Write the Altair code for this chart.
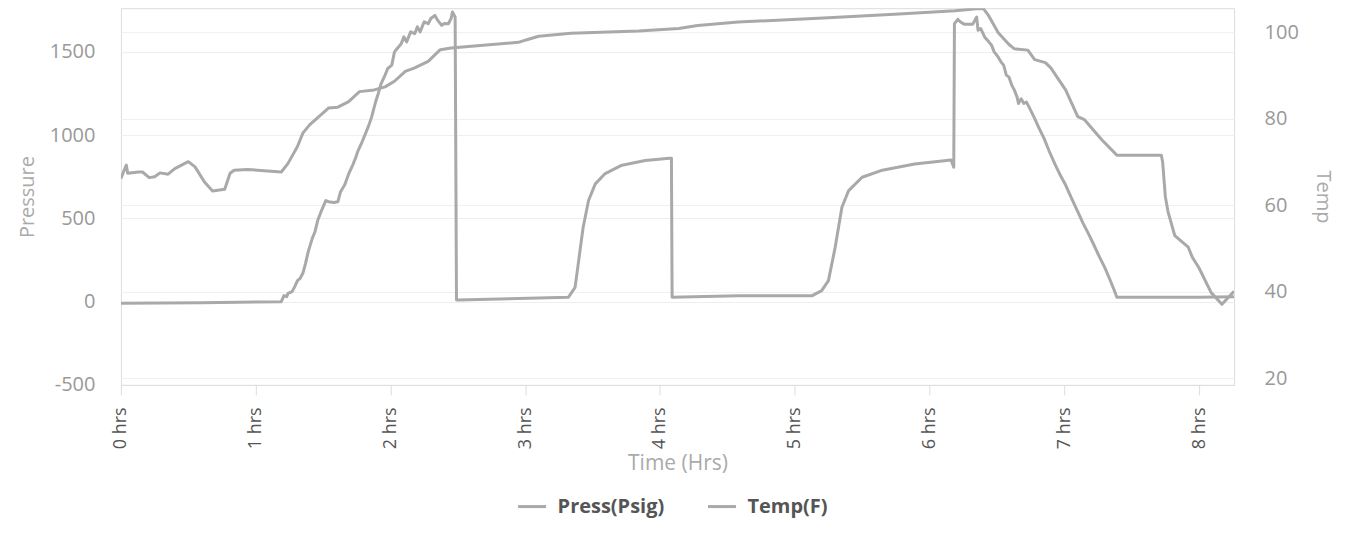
import altair as alt
import pandas as pd

series_names = ["Press(Psig)", "Temp(F)"]
hour_ticks = [0, 1, 2, 3, 4, 5, 6, 7, 8]
press_ticks = [-500, 0, 500, 1000, 1500]
temp_ticks = [20, 40, 60, 80, 100]

press_t = [0.00, 0.60, 1.19, 1.21, 1.23, 1.24, 1.27, 1.29, 1.31, 1.33, 1.35, 1.37, 1.39, 1.42, 1.44,
           1.46, 1.49, 1.52, 1.54, 1.58, 1.61, 1.63, 1.66, 1.69, 1.72, 1.74, 1.76, 1.79, 1.81, 1.84,
           1.86, 1.89, 1.91, 1.93, 1.96, 1.98, 2.01, 2.03, 2.05, 2.08, 2.10, 2.12, 2.15, 2.18, 2.20,
           2.22, 2.25, 2.28, 2.30, 2.33, 2.35, 2.38, 2.40, 2.43, 2.45, 2.46, 2.48, 2.49, 2.50, 3.32,
           3.37, 3.39, 3.43, 3.47, 3.52, 3.59, 3.71, 3.89, 4.07, 4.085, 4.09, 4.58, 5.13, 5.20, 5.25,
           5.30, 5.35, 5.40, 5.50, 5.64, 5.89, 6.16, 6.18, 6.185, 6.21, 6.23, 6.26, 6.32, 6.35, 6.36,
           6.38, 6.41, 6.44, 6.46, 6.48, 6.51, 6.53, 6.55, 6.57, 6.59, 6.61, 6.63, 6.65, 6.66, 6.68,
           6.70, 6.72, 6.75, 6.78, 6.81, 6.85, 6.89, 6.93, 6.97, 7.01, 7.05, 7.10, 7.14, 7.18, 7.22,
           7.26, 7.30, 7.34, 7.37, 7.39, 8.00, 8.26]
press_v = [-10, -6, 0, 36, 30, 50, 60, 90, 126, 140, 170, 230, 300, 380, 420,
           487, 550, 607, 600, 595, 600, 660, 700, 767, 820, 860, 907, 960, 1000, 1060,
           1108, 1200, 1250, 1308, 1360, 1400, 1420, 1500, 1520, 1549, 1590, 1560, 1620, 1609, 1650,
           1620, 1680, 1669, 1700, 1719, 1690, 1659, 1670, 1669, 1700, 1739, 1709, 10, 10, 26,
           86, 206, 447, 607, 707, 767, 817, 847, 861, 861, 26, 36, 36, 66, 126,
           326, 567, 667, 747, 787, 827, 851, 807, 1669, 1695, 1679, 1665, 1665, 1709, 1629,
           1640, 1588, 1560, 1540, 1500, 1468, 1440, 1420, 1360, 1348, 1300, 1270, 1228, 1190, 1218,
           1190, 1198, 1150, 1100, 1047, 980, 900, 827, 760, 700, 627, 540, 470, 407, 340,
           270, 206, 130, 70, 26, 26, 30]

temp_t = [0.00, 0.02, 0.04, 0.05, 0.10, 0.13, 0.16, 0.21, 0.25, 0.29, 0.35, 0.40, 0.50, 0.55, 0.62,
          0.68, 0.77, 0.81, 0.84, 0.94, 1.19, 1.24, 1.31, 1.35, 1.40, 1.54, 1.61, 1.69, 1.77, 1.88,
          1.96, 2.03, 2.11, 2.18, 2.28, 2.37, 2.45, 2.60, 2.95, 3.00, 3.10, 3.34, 3.84, 4.14, 4.28,
          4.58, 5.25, 5.74, 6.19, 6.29, 6.36, 6.40, 6.44, 6.51, 6.59, 6.63, 6.73, 6.78, 6.86, 6.90,
          7.01, 7.10, 7.15, 7.28, 7.39, 7.72, 7.73, 7.75, 7.77, 7.82, 7.92, 7.95, 8.00, 8.09, 8.17,
          8.26]
temp_v = [66.2, 67.8, 69.3, 67.4, 67.6, 67.7, 67.7, 66.4, 66.6, 67.5, 67.2, 68.5, 70.1, 68.9, 65.4,
          63.3, 63.7, 67.4, 68.1, 68.3, 67.7, 69.7, 73.6, 76.7, 78.6, 82.5, 82.7, 84.0, 86.3, 86.7,
          87.4, 88.7, 91.0, 91.8, 93.3, 96.0, 96.4, 96.8, 97.7, 98.2, 99.1, 99.8, 100.3, 100.9, 101.6,
          102.4, 103.4, 104.2, 105.0, 105.3, 105.5, 105.5, 103.8, 99.9, 97.2, 96.2, 95.9, 93.7, 93.0, 91.8,
          86.7, 80.5, 79.8, 75.1, 71.6, 71.6, 70.0, 62.0, 58.5, 53.0, 50.3, 48.0, 45.5, 39.8, 37.1,
          40.1]

FONT = "Open Sans"
LINE = "#a9a9a9"

press_df = pd.DataFrame({"t": press_t, "v": press_v, "series": series_names[0]})
temp_df = pd.DataFrame({"t": temp_t, "v": temp_v, "series": series_names[1]})

color = alt.Color(
    "series:N",
    scale=alt.Scale(domain=series_names, range=[LINE, LINE]),
    legend=alt.Legend(
        orient="none", direction="horizontal", legendX=396, legendY=483, title=None,
        symbolType="stroke", symbolSize=784, symbolStrokeWidth=3, symbolStrokeColor=LINE,
        labelFont=FONT, labelFontSize=20, labelFontWeight="bold", labelColor="#555555",
        labelOffset=10, columnPadding=37,
    ),
)

x = alt.X(
    "t:Q",
    scale=alt.Scale(domain=[0, 8.26], nice=False, zero=False),
    axis=alt.Axis(
        values=hour_ticks, labelExpr="datum.value + ' hrs'", labelAngle=-90,
        title="Time (Hrs)", grid=False, ticks=True, tickSize=10, tickColor="#dddddd",
        domain=True, domainColor="#dddddd", labelPadding=12,
        labelFont=FONT, labelFontSize=18, labelColor="#555555",
        titleFont=FONT, titleFontSize=21, titleFontWeight="normal", titleColor="#aaaaaa",
        titlePadding=4,
    ),
)

press = alt.Chart(press_df).mark_line(strokeWidth=3, clip=True, strokeJoin="round").encode(
    x=x,
    y=alt.Y(
        "v:Q",
        scale=alt.Scale(domain=[-500, 1762], nice=False, zero=False),
        axis=alt.Axis(
            orient="left", values=press_ticks, labelExpr="'' + datum.value", title="Pressure",
            grid=True, gridColor="#eeeeee",
            domain=False, ticks=False, labelPadding=26,
            labelFont=FONT, labelFontSize=20, labelColor="#999999",
            titleFont=FONT, titleFontSize=20, titleFontWeight="normal", titleColor="#aaaaaa",
            titlePadding=12,
        ),
    ),
    color=color,
)

temp = alt.Chart(temp_df).mark_line(strokeWidth=3, clip=True, strokeJoin="round").encode(
    x=x,
    y=alt.Y(
        "v:Q",
        scale=alt.Scale(domain=[18.45, 105.6], nice=False, zero=False),
        axis=alt.Axis(
            orient="right", values=temp_ticks, format="d", title="Temp",
            grid=True, gridColor="#f0f0f0",
            domain=False, ticks=False, labelPadding=30,
            labelFont=FONT, labelFontSize=20, labelColor="#999999",
            titleFont=FONT, titleFontSize=20, titleFontWeight="normal", titleColor="#aaaaaa",
            titlePadding=14,
        ),
    ),
    color=color,
)

chart = alt.layer(press, temp).resolve_scale(y="independent").properties(
    width=1114, height=377,
    autosize=alt.AutoSizeParams(type="none"),
    padding={"left": 113, "top": 0, "right": 104, "bottom": 150},
).configure_view(stroke=None).configure(background="white")

chart.save("out.html", embed_options={"renderer": "svg", "actions": False})
